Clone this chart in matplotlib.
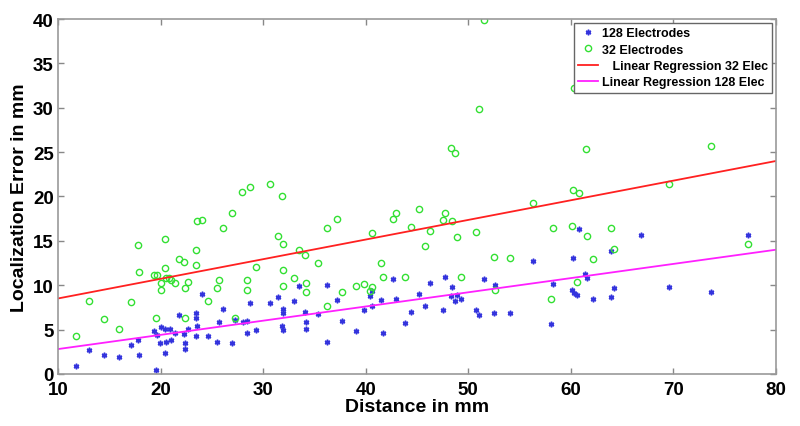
import matplotlib
matplotlib.use("Agg")
import matplotlib.pyplot as plt
import numpy as np

# 128 electrodes (blue asterisks)
dist_128 = [11.8, 13.0, 14.5, 15.9, 17.1, 17.8, 17.9, 19.4, 19.7, 19.6, 20.0, 19.9,
            20.4, 20.4, 20.5, 20.9, 21.0, 21.4, 21.8, 22.3, 22.4, 22.4, 22.7, 23.5,
            23.5, 23.6, 23.5, 24.0, 24.6, 25.5, 25.7, 26.1, 27.0, 27.3, 28.0, 28.4,
            28.4, 28.7, 29.3, 30.7, 31.4, 31.9, 31.9, 31.8, 31.9, 33.0, 33.5, 34.1,
            34.2, 34.2, 35.3, 36.2, 36.2, 37.2, 37.7, 39.1, 39.8, 40.4, 40.6, 40.6,
            41.5, 41.7, 42.7, 43.0, 43.8, 44.4, 45.2, 45.8, 46.3, 47.5, 47.7, 48.3,
            48.4, 48.7, 48.9, 49.3, 50.8, 51.0, 51.5, 52.5, 52.6, 54.1, 56.3, 58.1,
            58.3, 60.1, 60.2, 60.3, 60.6, 60.8, 61.4, 61.6, 62.2, 63.9, 63.9, 64.2,
            66.8, 69.6, 73.7, 77.3]
err_128 = [0.9, 2.7, 2.1, 1.9, 3.3, 3.8, 2.1, 4.8, 4.4, 0.4, 5.3, 3.5,
           5.1, 2.4, 3.6, 5.1, 3.8, 4.6, 6.6, 4.5, 3.5, 2.8, 5.1, 6.3,
           6.9, 5.4, 4.3, 9.0, 4.3, 3.6, 5.9, 7.3, 3.5, 6.1, 5.8, 6.0,
           4.6, 8.0, 4.9, 8.0, 8.7, 7.3, 6.9, 5.4, 4.9, 8.2, 9.9, 7.0,
           5.9, 5.1, 6.8, 10.0, 3.6, 8.3, 6.0, 4.8, 7.2, 8.8, 9.4, 7.7,
           8.3, 4.6, 10.7, 8.5, 5.7, 7.0, 9.0, 7.7, 10.3, 7.2, 10.9, 8.8,
           9.8, 8.2, 8.9, 8.5, 7.2, 6.6, 10.7, 6.9, 10.0, 6.9, 12.7, 5.6,
           10.1, 9.5, 13.1, 9.1, 8.9, 16.3, 11.3, 10.8, 8.4, 8.7, 13.9, 9.7,
           15.7, 9.8, 9.2, 15.7]

# 32 electrodes (green circles)
dist_32 = [11.8, 13.0, 14.5, 15.9, 17.1, 17.8, 17.9, 19.4, 19.7, 19.6, 20.0, 20.0,
           20.4, 20.4, 20.5, 20.8, 21.0, 21.4, 21.8, 22.3, 22.4, 22.4, 22.7, 23.5,
           23.5, 23.6, 24.0, 24.6, 25.5, 25.7, 26.1, 27.0, 27.3, 27.9, 28.7, 28.4,
           28.4, 29.3, 30.7, 31.4, 31.8, 31.9, 31.9, 31.9, 33.0, 33.5, 34.1, 34.2,
           34.2, 35.3, 36.2, 36.2, 37.2, 37.7, 39.1, 39.8, 40.4, 40.6, 40.6, 41.5,
           41.7, 42.7, 43.0, 43.8, 44.4, 45.2, 45.8, 46.3, 47.5, 47.7, 48.3, 48.4,
           48.7, 48.9, 49.3, 50.8, 51.0, 51.5, 52.5, 52.6, 54.1, 56.3, 58.1, 58.3,
           60.1, 60.2, 60.3, 60.6, 60.8, 61.5, 61.6, 62.2, 63.9, 64.2, 69.6, 73.7,
           77.3]
err_32 = [4.3, 8.2, 6.2, 5.1, 8.1, 14.5, 11.5, 11.1, 11.2, 6.3, 10.3, 9.5,
          15.2, 11.9, 10.8, 10.8, 10.6, 10.3, 12.9, 12.6, 9.7, 6.3, 10.4, 12.3,
          14.0, 17.2, 17.3, 8.2, 9.7, 10.6, 16.5, 18.1, 6.3, 20.5, 21.1, 10.6,
          9.5, 12.1, 21.4, 15.6, 20.1, 14.6, 11.7, 9.9, 10.8, 14.0, 13.4, 10.3,
          9.2, 12.5, 16.5, 7.6, 17.5, 9.2, 9.9, 10.1, 9.4, 9.8, 15.9, 12.5,
          10.9, 17.5, 18.1, 10.9, 16.6, 18.6, 14.4, 16.1, 17.4, 18.1, 25.5, 17.2,
          24.9, 15.4, 10.9, 16.0, 29.9, 39.9, 13.2, 9.5, 13.1, 19.3, 8.5, 16.4,
          16.7, 20.7, 32.2, 10.4, 20.4, 25.4, 15.6, 13.0, 16.4, 14.1, 21.4, 25.7,
          14.7]

# regression lines (slope, intercept)
fit_32 = (0.2214, 6.29)
fit_128 = (0.16, 1.2)
x_range = [10, 80]

fig = plt.figure(figsize=(8, 4.27), dpi=100)
ax = fig.add_axes([0.0725, 0.122, 0.8975, 0.831])

ax.plot(dist_128, err_128, linestyle='none', marker=(6, 2, 0), color='#3333dd',
        markersize=4, markeredgewidth=1.1, label='128 Electrodes')
ax.plot(dist_32, err_32, 'o', color='#33e033', markerfacecolor='none', markersize=4.5,
        markeredgewidth=1.0, label='32 Electrodes')
xr = np.array(x_range)
ax.plot(xr, fit_32[0] * xr + fit_32[1], color='#ff2020', lw=1.3,
        label='   Linear Regression 32 Elec')
ax.plot(xr, fit_128[0] * xr + fit_128[1], color='#ff20ff', lw=1.3,
        label='Linear Regression 128 Elec')

ax.set_xlim(10, 80)
ax.set_ylim(0, 40)
ax.set_xticks(range(10, 81, 10))
ax.set_yticks(range(0, 41, 5))

font = 'Liberation Sans'
for lab in ax.get_xticklabels() + ax.get_yticklabels():
    lab.set_fontfamily(font)
    lab.set_fontweight('bold')
    lab.set_fontsize(13.5)
ax.tick_params(direction='in', top=True, right=True, length=4, color='#888888', width=1)
ax.tick_params(axis='x', pad=5)
ax.tick_params(axis='y', pad=3)
for s in ax.spines.values():
    s.set_color('#999999')
    s.set_linewidth(1.2)

ax.set_xlabel('Distance in mm', fontfamily=font, fontweight='bold', fontsize=14, labelpad=0)
ax.set_ylabel('Localization Error in mm', fontfamily=font, fontweight='bold', fontsize=14, labelpad=4)

leg = ax.legend(loc='upper right', prop={'family': font, 'weight': 'bold', 'size': 9},
                fancybox=False, edgecolor='#666666', borderpad=0.35, labelspacing=0.35,
                handlelength=1.6, handletextpad=0.3, borderaxespad=0.3, framealpha=1)

fig.savefig('out.png', dpi=100)
